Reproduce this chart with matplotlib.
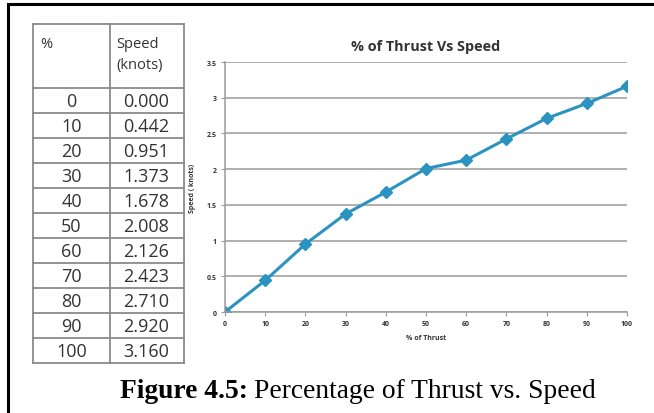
import matplotlib.pyplot as plt
from matplotlib.lines import Line2D

thrust = [0, 10, 20, 30, 40, 50, 60, 70, 80, 90, 100]
speed = [0.000, 0.442, 0.951, 1.373, 1.678, 2.008, 2.126, 2.423, 2.710, 2.920, 3.160]
speed_labels = ["0.000", "0.442", "0.951", "1.373", "1.678", "2.008",
                "2.126", "2.423", "2.710", "2.920", "3.160"]
y_ticks = [0, 0.5, 1, 1.5, 2, 2.5, 3, 3.5]
y_tick_labels = ["0", "0.5", "1", "1.5", "2", "2.5", "3", "3.5"]

W, H = 654, 414
fig = plt.figure(figsize=(W / 100, H / 100), dpi=100)
fig.patch.set_facecolor("white")

# overlay in pixel coordinates for the table, border and caption
ov = fig.add_axes([0, 0, 1, 1])
ov.set_xlim(0, W)
ov.set_ylim(H, 0)
ov.axis("off")

# outer border (cropped on right and bottom)
ov.add_line(Line2D([8, W], [5, 5], color="black", lw=2.2))
ov.add_line(Line2D([8, 8], [5, H], color="black", lw=2.2))

# table
tl, tm, tr = 33, 110, 184
ttop, thead = 25, 89
row_h = (364 - thead) / len(thrust)
grid_c = "#8a8a8a"
tfont = "Open Sans"
ov.add_line(Line2D([tl, tr], [ttop, ttop], color=grid_c, lw=1.3))
for i in range(len(thrust) + 1):
    y = thead + i * row_h
    ov.add_line(Line2D([tl, tr], [y, y], color=grid_c, lw=1.3))
bottom = thead + len(thrust) * row_h
for x in (tl, tm, tr):
    ov.add_line(Line2D([x, x], [ttop, bottom], color=grid_c, lw=1.3))

ov.text(40, 44, "%", fontsize=10.5, family=tfont, color="#333333", va="center", ha="left")
ov.text(116, 44, "Speed", fontsize=10.5, family=tfont, color="#333333", va="center", ha="left")
ov.text(116, 66, "(knots)", fontsize=10.5, family=tfont, color="#333333", va="center", ha="left")
for i, (t, s) in enumerate(zip(thrust, speed_labels)):
    yc = thead + (i + 0.5) * row_h
    ov.text((tl + tm) / 2, yc + 1, str(t), fontsize=13, family=tfont, color="#333333",
            va="center", ha="center")
    ov.text((tm + tr) / 2 - 1, yc + 1, s, fontsize=13, family=tfont, color="#333333",
            va="center", ha="center")

# chart
ax = fig.add_axes([225 / W, 1 - 313 / H, 402 / W, 250 / H])
ax.plot(thrust, speed, color="#2b93bf", lw=2.2, marker="D", markersize=6,
        markerfacecolor="#2b93bf", markeredgecolor="#2b93bf")
ax.set_xlim(0, 100)
ax.set_ylim(0, 3.5)
ax.set_xticks(thrust)
ax.set_xticklabels([str(t) for t in thrust])
ax.set_yticks(y_ticks)
ax.set_yticklabels(y_tick_labels)
ax.grid(axis="y", color="#9a9a9a", lw=1.1)
ax.set_axisbelow(True)
for side in ("top", "right"):
    ax.spines[side].set_visible(False)
for side in ("left", "bottom"):
    ax.spines[side].set_color("#9a9a9a")
    ax.spines[side].set_linewidth(1.1)
ax.tick_params(axis="both", labelsize=5, colors="#9a9a9a", labelcolor="#333333",
               length=3, width=0.8, pad=3)
for lab in ax.get_xticklabels() + ax.get_yticklabels():
    lab.set_family("Open Sans")
    lab.set_fontweight("bold")

ax.set_title("% of Thrust Vs Speed", fontsize=10.4, fontweight="bold", family="Open Sans",
             color="#333333", pad=9)
ax.set_xlabel("% of Thrust", fontsize=5, fontweight="bold", family="Open Sans",
              color="#333333", labelpad=5)
ax.set_ylabel("Speed ( knots)", fontsize=5, fontweight="bold", family="Open Sans",
              color="#333333", labelpad=8)

# caption
cap1 = ov.text(120, 398, "Figure 4.5:", fontsize=19.8, family="Liberation Serif",
               fontweight="bold", color="black", va="baseline", ha="left")
fig.canvas.draw()
bb = cap1.get_window_extent()
x_end = bb.x1
ov.text(x_end + 6, 398, "Percentage of Thrust vs. Speed", fontsize=19.8,
        family="Liberation Serif", color="black", va="baseline", ha="left")

fig.savefig("out.png", dpi=100, facecolor="white")
